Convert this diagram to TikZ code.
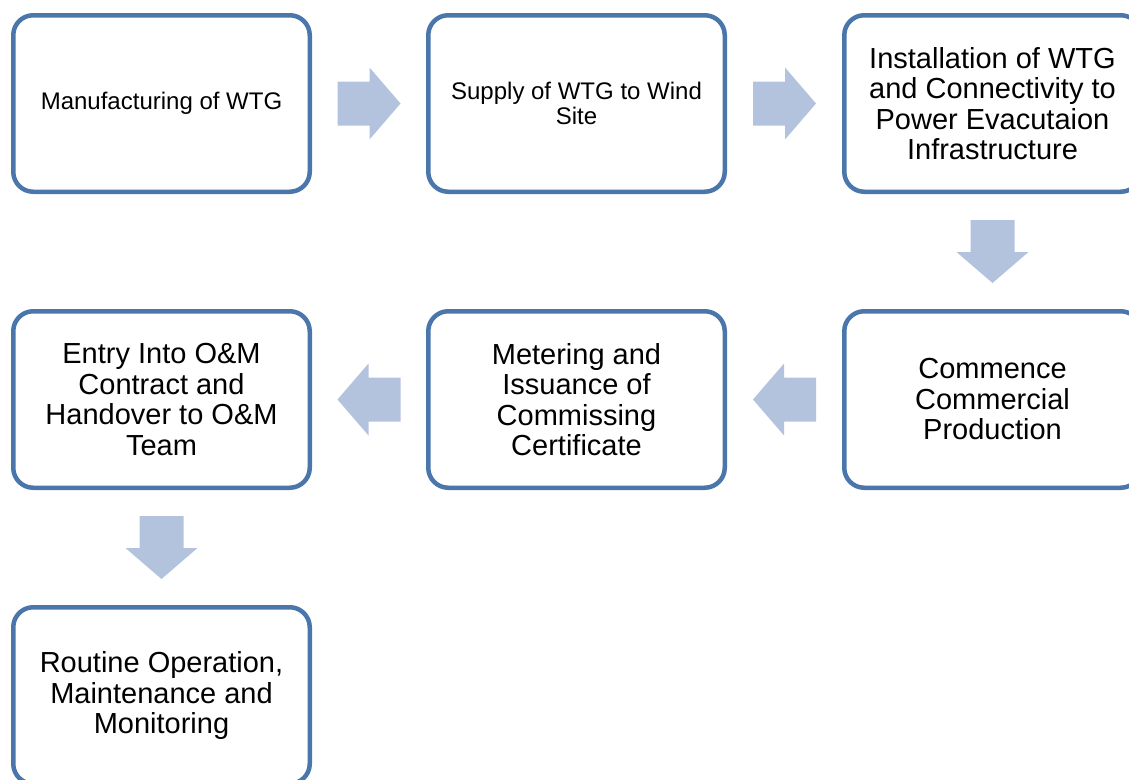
\documentclass[tikz,border=0pt]{standalone}
\usepackage{fontspec}
\setmainfont{Liberation Sans}
\usetikzlibrary{calc}
\definecolor{boxblue}{RGB}{74,118,172}
\definecolor{arrowblue}{RGB}{179,195,222}
\tikzset{
  stepbox/.style={draw=boxblue, line width=4.5pt, rounded corners=20pt, fill=white,
    minimum width=296.5pt, minimum height=176.5pt, align=center, inner sep=2pt},
  smalltext/.style={font=\fontsize{24pt}{25pt}\selectfont},
  bigtext/.style={font=\fontsize{29pt}{30.5pt}\selectfont},
  blockarrow/.pic={\fill[arrowblue] (-31.5,-22) -- (0.5,-22) -- (0.5,-36) -- (31.5,0)
     -- (0.5,36) -- (0.5,22) -- (-31.5,22) -- cycle;}
}
\begin{document}
\begin{tikzpicture}[x=1pt,y=-1pt]
\useasboundingbox (0,0) rectangle (1129,779);
\begin{scope}
\clip (0,0) rectangle (1129,779);
\node[stepbox, smalltext] (b1) at (161.5,103.5) {Manufacturing of WTG};
\node[stepbox, smalltext] (b2) at (576.5,103.5) {Supply of WTG to Wind\\Site};
\node[stepbox, bigtext] (b3) at (992.5,103.5) {Installation of WTG\\and Connectivity to\\Power Evacutaion\\Infrastructure};
\node[stepbox, bigtext] (b4) at (992.5,399.5) {Commence\\Commercial\\Production};
\node[stepbox, bigtext] (b5) at (576.5,399.5) {Metering and\\Issuance of\\Commissing\\Certificate};
\node[stepbox, bigtext] (b6) at (161.5,399.5) {Entry Into O\&M\\Contract and\\Handover to O\&M\\Team};
\node[stepbox, bigtext] (b7) at (161.5,695.5) {Routine Operation,\\Maintenance and\\Monitoring};
\end{scope}
\coordinate (m12) at ($(b1.east)!0.5!(b2.west)$);
\coordinate (m23) at ($(b2.east)!0.5!(b3.west)$);
\coordinate (m34) at ($(b3.south)!0.5!(b4.north)$);
\coordinate (m45) at ($(b4.west)!0.5!(b5.east)$);
\coordinate (m56) at ($(b5.west)!0.5!(b6.east)$);
\coordinate (m67) at ($(b6.south)!0.5!(b7.north)$);
\pic at (m12) {blockarrow};
\pic at (m23) {blockarrow};
\pic[rotate=-90] at (m34) {blockarrow};
\pic[rotate=180] at (m45) {blockarrow};
\pic[rotate=180] at (m56) {blockarrow};
\pic[rotate=-90] at (m67) {blockarrow};
\end{tikzpicture}
\end{document}
